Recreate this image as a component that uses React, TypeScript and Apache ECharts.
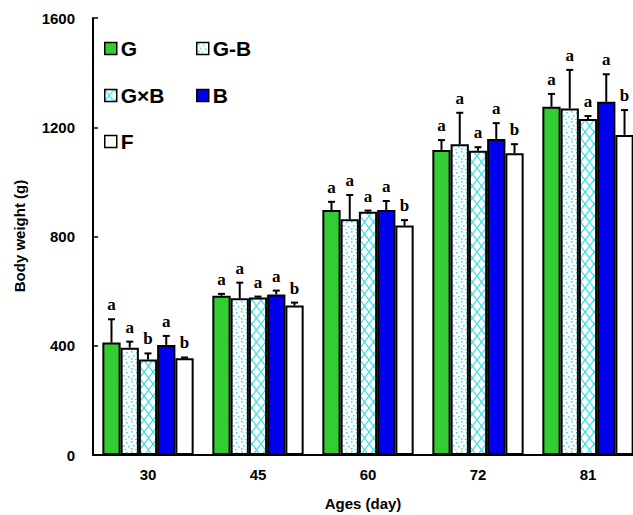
import React, { useEffect, useRef } from "react";
import * as echarts from "echarts";

const categories = ["30", "45", "60", "72", "81"];
const seriesNames = ["G", "G-B", "G×B", "B", "F"];
const gValues = [412, 583, 897, 1117, 1275];
const gSd = [85, 7, 30, 36, 47];
const gbValues = [393, 574, 863, 1138, 1269];
const gbSd = [22, 57, 89, 115, 141];
const gxbValues = [350, 577, 891, 1114, 1230];
const gxbSd = [22, 3, 4, 13, 11];
const bValues = [403, 588, 897, 1157, 1293];
const bSd = [33, 14, 33, 58, 101];
const fValues = [354, 547, 840, 1105, 1172];
const fSd = [3, 11, 20, 33, 91];
const gLetters = ["a", "a", "a", "a", "a"];
const gbLetters = ["a", "a", "a", "a", "a"];
const gxbLetters = ["b", "a", "a", "a", "a"];
const bLetters = ["a", "a", "a", "a", "a"];
const fLetters = ["b", "b", "b", "b", "b"];
const yTicks = [0, 400, 800, 1200, 1600];

const CAT_GAP = 0.17;
const CYAN = "#3ee0e6";

function dotPattern() {
  const c = document.createElement("canvas");
  c.width = 10;
  c.height = 10;
  const ctx = c.getContext("2d")!;
  ctx.fillStyle = "#ffffff";
  ctx.fillRect(0, 0, 10, 10);
  ctx.fillStyle = CYAN;
  const pts = [[1, 1], [6, 2], [3, 5], [8, 6], [1, 8], [5, 9]];
  pts.forEach(([x, y]) => ctx.fillRect(x, y, 1.6, 1.6));
  return c;
}

function crossPattern() {
  const w = 9, h = 12;
  const c = document.createElement("canvas");
  c.width = w;
  c.height = h;
  const ctx = c.getContext("2d")!;
  ctx.fillStyle = "#ffffff";
  ctx.fillRect(0, 0, w, h);
  ctx.strokeStyle = CYAN;
  ctx.lineWidth = 1.3;
  ctx.beginPath();
  ctx.moveTo(-w, -h); ctx.lineTo(2 * w, 2 * h);
  ctx.moveTo(2 * w, -h); ctx.lineTo(-w, 2 * h);
  ctx.stroke();
  return c;
}

export default function App() {
  const ref = useRef<HTMLDivElement>(null);
  useEffect(() => {
    const chart = echarts.init(ref.current!, null, { renderer: "svg" });
    const values = [gValues, gbValues, gxbValues, bValues, fValues];
    const sds = [gSd, gbSd, gxbSd, bSd, fSd];
    const letters = [gLetters, gbLetters, gxbLetters, bLetters, fLetters];
    const fills: any[] = [
      "#33cc33",
      { image: dotPattern(), repeat: "repeat" },
      { image: crossPattern(), repeat: "repeat" },
      "#0000ee",
      "#ffffff",
    ];
    const errData: number[][] = [];
    values.forEach((arr, si) =>
      arr.forEach((v, ci) => errData.push([ci, si, v, sds[si][ci]]))
    );
    const bold = { fontFamily: "Liberation Sans, Arial", fontWeight: "bold" as const, color: "#000" };
    const legendPos = [
      { left: 104, top: 38 },
      { left: 196, top: 38 },
      { left: 104, top: 85 },
      { left: 196, top: 85 },
      { left: 104, top: 131 },
    ];
    const legends = seriesNames.map((n, i) => ({
      data: [n],
      ...legendPos[i],
      padding: 0,
      icon: "rect",
      itemWidth: 12,
      itemHeight: 12,
      itemGap: 5,
      selectedMode: false,
      itemStyle: { borderWidth: 1.5, borderColor: "#000" },
      textStyle: { ...bold, fontSize: 21, padding: [0, 0, 0, -1] },
    }));
    chart.setOption({
      animation: false,
      backgroundColor: "#ffffff",
      legend: legends,
      grid: { left: 93, top: 18, width: 550, height: 437, containLabel: false, outerBoundsMode: "none" },
      xAxis: {
        type: "category",
        data: categories,
        name: "Ages (day)",
        nameLocation: "middle",
        nameGap: 41,
        nameTextStyle: { ...bold, fontSize: 15, padding: [0, 10, 0, 0] },
        axisLine: { lineStyle: { color: "#000", width: 2 } },
        axisTick: { show: true, inside: true, length: 3, alignWithLabel: true, lineStyle: { color: "#000", width: 1.5 } },
        axisLabel: { ...bold, fontSize: 15, margin: 12 },
      },
      yAxis: {
        type: "value",
        min: 0,
        max: 1600,
        interval: 400,
        axisLine: { show: true, lineStyle: { color: "#000", width: 2 } },
        axisTick: { show: true, inside: true, length: 5, lineStyle: { color: "#000", width: 1.5 } },
        axisLabel: {
          ...bold,
          fontSize: 15,
          margin: 18,
          formatter: (v: number) => (yTicks.includes(v) ? String(v) : ""),
        },
        splitLine: { show: false },
      },
      graphic: [
        {
          type: "text",
          x: 19,
          y: 236,
          rotation: Math.PI / 2,
          style: {
            text: "Body weight (g)",
            fontFamily: "Liberation Sans, Arial",
            fontWeight: "bold",
            fontSize: 15,
            fill: "#000",
            align: "center",
            verticalAlign: "middle",
          },
        },
      ],
      series: [
        ...seriesNames.map((n, si) => ({
          name: n,
          type: "bar",
          data: values[si],
          barGap: "0%",
          barCategoryGap: CAT_GAP * 100 + "%",
          itemStyle: { color: fills[si], borderColor: "#000", borderWidth: 2 },
          emphasis: { disabled: true },
        })),
        {
          type: "custom",
          name: "err",
          data: errData,
          encode: { x: 0, y: 2 },
          z: 10,
          silent: true,
          renderItem: (params: any, api: any) => {
            const ci = api.value(0);
            const si = api.value(1);
            const v = api.value(2);
            const sd = api.value(3);
            const band = api.size([1, 0])[0];
            const bw = (band * (1 - CAT_GAP)) / 5;
            const cx = api.coord([ci, 0])[0] + (si - 2) * bw;
            const y0 = api.coord([ci, v])[1];
            const y1 = api.coord([ci, v + sd])[1];
            const st = { stroke: "#000", lineWidth: 2 };
            return {
              type: "group",
              children: [
                { type: "line", shape: { x1: cx, y1: y0, x2: cx, y2: y1 }, style: st },
                { type: "line", shape: { x1: cx - 3.5, y1: y1, x2: cx + 3.5, y2: y1 }, style: st },
                {
                  type: "text",
                  x: cx,
                  y: y1 - 6,
                  style: {
                    text: letters[si][ci],
                    fontFamily: "Liberation Serif, Times New Roman, serif",
                    fontWeight: "bold",
                    fontSize: 17,
                    fill: "#000",
                    align: "center",
                    verticalAlign: "bottom",
                  },
                },
              ],
            };
          },
        },
      ],
    });
    return () => chart.dispose();
  }, []);
  return (
    <div
      ref={ref}
      style={{ position: "absolute", left: 0, top: 0, width: 633, height: 515, background: "#fff" }}
    />
  );
}
